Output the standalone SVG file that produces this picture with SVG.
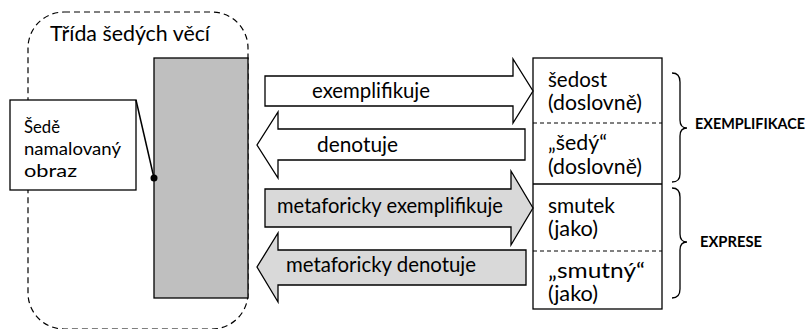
<svg xmlns="http://www.w3.org/2000/svg" width="809" height="329" viewBox="0 0 809 329">
<style>
text{font-family:Lato,"Open Sans","Liberation Sans",sans-serif;fill:#000}
.t{font-size:21px}
.h{font-size:22px}
.s{font-size:18px}
.b{font-size:15px;font-weight:bold}
.ln{fill:none;stroke:#000;stroke-width:1.3}
.ar{stroke:#000;stroke-width:1.3}
</style>
<rect width="809" height="329" fill="#fff"/>
<g id="class">
<rect x="28" y="12" width="220" height="317" rx="36" fill="none" stroke="#000" stroke-width="1.2" stroke-dasharray="6,4"/>
<text class="h" x="50" y="41" textLength="160" lengthAdjust="spacingAndGlyphs">Třída šedých věcí</text>
</g>
<g id="picture">
<rect x="154" y="58" width="94" height="240" fill="#bfbfbf" stroke="#000" stroke-width="1.3"/>
</g>
<g id="callout">
<rect x="10" y="100" width="126" height="90" fill="#fff" stroke="#000" stroke-width="1.3"/>
<text class="s" x="24" y="133" textLength="36" lengthAdjust="spacingAndGlyphs">Šedě</text>
<text class="s" x="24" y="155" textLength="97" lengthAdjust="spacingAndGlyphs">namalovaný</text>
<text class="s" x="24" y="177" textLength="53" lengthAdjust="spacingAndGlyphs">obraz</text>
</g>
<g id="table">
<rect x="533" y="58" width="129" height="251" fill="#fff" stroke="#000" stroke-width="1.3"/>
<line x1="533" y1="184" x2="662" y2="184" stroke="#000" stroke-width="1.3"/>
<line x1="533" y1="123" x2="662" y2="123" stroke="#000" stroke-width="1" stroke-dasharray="4,3"/>
<line x1="533" y1="251" x2="662" y2="251" stroke="#000" stroke-width="1" stroke-dasharray="4,3"/>
<text class="t" x="548" y="87" textLength="59" lengthAdjust="spacingAndGlyphs">šedost</text>
<text class="t" x="548" y="110" textLength="94" lengthAdjust="spacingAndGlyphs">(doslovně)</text>
<text class="t" x="548" y="150" textLength="59" lengthAdjust="spacingAndGlyphs">„šedý“</text>
<text class="t" x="548" y="174" textLength="94" lengthAdjust="spacingAndGlyphs">(doslovně)</text>
<text class="t" x="548" y="213" textLength="67" lengthAdjust="spacingAndGlyphs">smutek</text>
<text class="t" x="548" y="236" textLength="50" lengthAdjust="spacingAndGlyphs">(jako)</text>
<text class="t" x="548" y="278" textLength="97" lengthAdjust="spacingAndGlyphs">„smutný“</text>
<text class="t" x="548" y="301" textLength="50" lengthAdjust="spacingAndGlyphs">(jako)</text>
</g>
<g id="connectors">
<line x1="136" y1="100" x2="154" y2="178" stroke="#000" stroke-width="1.5"/>
<circle cx="154" cy="178" r="3.5" fill="#000"/>
<polygon class="ar" fill="#fff" points="265,76 513,76 513,59 533,91 513,123 513,106 265,106"/>
<polygon class="ar" fill="#fff" points="525,129 278,129 278,112 257,145 278,178 278,160 525,160"/>
<polygon class="ar" fill="#d9d9d9" points="265,189 511,189 511,171 533,208 511,245 511,227 265,227"/>
<polygon class="ar" fill="#d9d9d9" points="526,250 278,250 278,233 257,267 278,302 278,285 526,285"/>
<path class="ln" d="M672,73 Q680,73 680,82 L680,120 Q680,128 687,128 Q680,128 680,136 L680,174 Q680,182 672,182"/>
<path class="ln" d="M672,188 Q680,188 680,197 L680,234 Q680,242 687,242 Q680,242 680,250 L680,289 Q680,298 672,298"/>
</g>
<g id="labels">
<text class="t" x="312" y="98" textLength="118" lengthAdjust="spacingAndGlyphs">exemplifikuje</text>
<text class="t" x="317" y="152" textLength="81" lengthAdjust="spacingAndGlyphs">denotuje</text>
<text class="t" x="277" y="213" textLength="226" lengthAdjust="spacingAndGlyphs">metaforicky exemplifikuje</text>
<text class="t" x="286" y="272" textLength="190" lengthAdjust="spacingAndGlyphs">metaforicky denotuje</text>
<text class="b" x="695" y="129" textLength="110" lengthAdjust="spacingAndGlyphs">EXEMPLIFIKACE</text>
<text class="b" x="700" y="247" textLength="62" lengthAdjust="spacingAndGlyphs">EXPRESE</text>
</g>
</svg>
